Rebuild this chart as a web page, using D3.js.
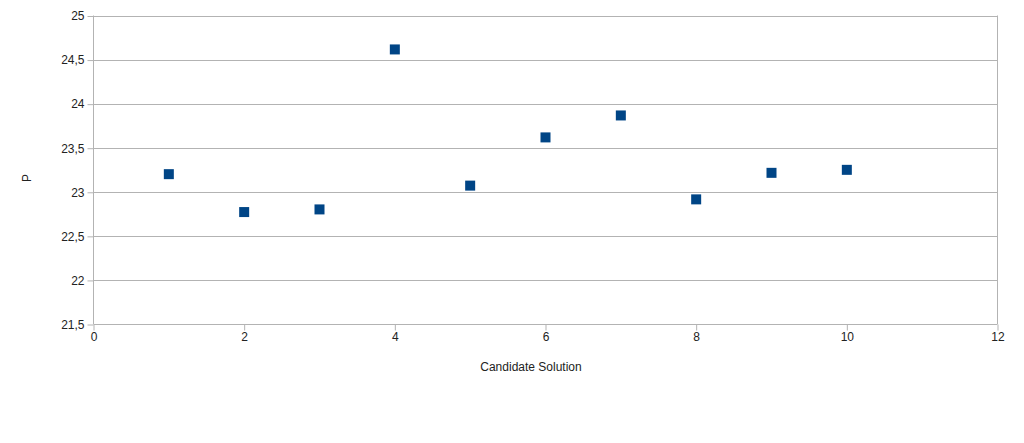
<!DOCTYPE html>
<html>
<head>
<meta charset="utf-8">
<script src="https://cdn.jsdelivr.net/npm/d3@7"></script>
<style>
  body { margin: 0; background: #fff; }
  text { font-family: "Liberation Sans", Arial, sans-serif; font-size: 12px; fill: #222; }
</style>
</head>
<body>
<div id="plot"></div>
<script>
// candidate solution numbers and P values
const candidates = [1, 2, 3, 4, 5, 6, 7, 8, 9, 10];
const pValues = [23.2, 22.77, 22.8, 24.615, 23.07, 23.617, 23.866, 22.914, 23.215, 23.249];
const xTicks = [0, 2, 4, 6, 8, 10, 12];
const yTicks = [21.5, 22, 22.5, 23, 23.5, 24, 24.5, 25];

const width = 1024, height = 443;
const plotLeft = 93.5, plotRight = 997.5, plotTop = 15.5, plotBottom = 324;

const svg = d3.select("#plot").append("svg")
  .attr("width", width)
  .attr("height", height);

const x = d3.scaleLinear().domain([0, 12]).range([plotLeft, plotRight]);
const y = d3.scaleLinear().domain([21.5, 25]).range([plotBottom, plotTop]);

const fmt = d => String(d).replace(".", ",");

// horizontal grid
svg.append("g")
  .selectAll("line")
  .data(yTicks)
  .join("line")
  .attr("x1", plotLeft).attr("x2", plotRight)
  .attr("y1", d => Math.round(y(d)) + 0.5).attr("y2", d => Math.round(y(d)) + 0.5)
  .attr("stroke", "#b3b3b3");

// frame sides
svg.append("line")
  .attr("x1", plotLeft).attr("x2", plotLeft).attr("y1", plotTop).attr("y2", plotBottom)
  .attr("stroke", "#b3b3b3");
svg.append("line")
  .attr("x1", plotRight).attr("x2", plotRight).attr("y1", plotTop).attr("y2", plotBottom)
  .attr("stroke", "#b3b3b3");

// y axis
const yAxis = svg.append("g")
  .attr("transform", `translate(${plotLeft},0.5)`)
  .call(d3.axisLeft(y).tickValues(yTicks).tickFormat(fmt).tickSize(6).tickSizeOuter(0).tickPadding(3));
yAxis.select(".domain").remove();
yAxis.selectAll(".tick line").attr("stroke", "#b3b3b3");
yAxis.selectAll("text").attr("fill", "#222").style("font-size", "12px").style("font-family", "Liberation Sans, Arial, sans-serif");

// x axis
const xAxis = svg.append("g")
  .attr("transform", `translate(0,${Math.round(plotBottom) + 0.5})`)
  .call(d3.axisBottom(x).tickValues(xTicks).tickFormat(d3.format("d")).tickSize(6).tickSizeOuter(0).tickPadding(2));
xAxis.select(".domain").remove();
xAxis.selectAll(".tick line").attr("stroke", "#b3b3b3");
xAxis.selectAll("text").attr("fill", "#222").style("font-size", "12px").style("font-family", "Liberation Sans, Arial, sans-serif");

// markers
const size = 10;
svg.append("g")
  .selectAll("rect")
  .data(candidates)
  .join("rect")
  .attr("x", (d, i) => x(d) - size / 2)
  .attr("y", (d, i) => y(pValues[i]) - size / 2)
  .attr("width", size)
  .attr("height", size)
  .attr("fill", "#004586");

// axis titles
svg.append("text")
  .attr("x", 531)
  .attr("y", 371)
  .attr("text-anchor", "middle")
  .text("Candidate Solution");

svg.append("text")
  .attr("transform", "translate(31,178) rotate(-90)")
  .attr("text-anchor", "middle")
  .text("P");
</script>
</body>
</html>
